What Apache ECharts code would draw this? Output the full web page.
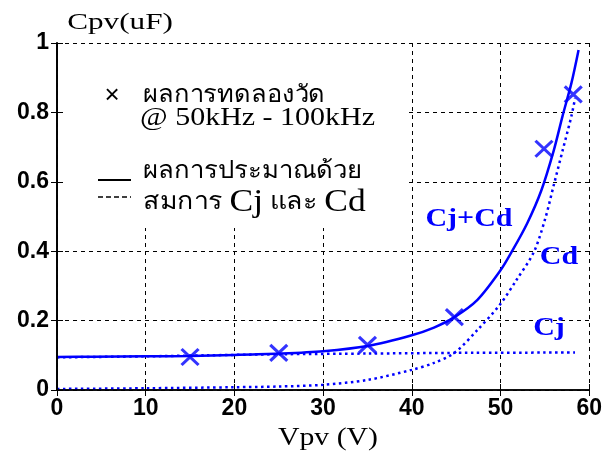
<!DOCTYPE html>
<html>
<head>
<meta charset="utf-8">
<script src="https://cdn.jsdelivr.net/npm/echarts@6/dist/echarts.min.js"></script>
<style>
  html, body { margin: 0; padding: 0; background: #fff; }
  #chart { width: 605px; height: 459px; }
</style>
</head>
<body>
<div id="chart"></div>
<script>
// Fitted total capacitance Cj + Cd (solid curve), uF vs V
const fitVoltage = [0, 4, 10, 15, 20, 25, 30, 35, 40, 42.5, 44.8, 47.4, 50, 51.3, 53, 54.6, 56, 57, 58, 58.8];
const fitCap     = [0.095, 0.096, 0.097, 0.098, 0.101, 0.105, 0.112, 0.127, 0.158, 0.18, 0.21, 0.26, 0.345, 0.4, 0.48, 0.575, 0.69, 0.79, 0.885, 0.98];

// Junction capacitance Cj (dotted)
const cjVoltage = [0, 10, 17, 25, 35, 45, 58.4];
const cjCap     = [0.094, 0.097, 0.1, 0.103, 0.105, 0.107, 0.108];

// Diffusion capacitance Cd (dotted)
const cdVoltage = [0, 10, 20, 25, 30, 35, 40, 42.5, 44.8, 47.4, 49.9, 51.8, 53.75, 55, 56, 57, 58, 58.4];
const cdCap     = [0.003, 0.005, 0.008, 0.01, 0.015, 0.029, 0.058, 0.078, 0.107, 0.173, 0.245, 0.317, 0.397, 0.49, 0.59, 0.69, 0.79, 0.84];

// Measured points @ 50kHz - 100kHz
const measVoltage = [15, 25, 35, 44.8, 54.9, 58.2];
const measCap     = [0.095, 0.107, 0.13, 0.21, 0.695, 0.852];

// Axis tick values
const xTicks = [0, 10, 20, 30, 40, 50, 60];
const yTicks = [0, 0.2, 0.4, 0.6, 0.8, 1];

const zip = (xs, ys) => xs.map((x, i) => [x, ys[i]]);

const BLUE = '#0000ff';
const SERIF = '"Liberation Serif", "DejaVu Serif", serif';
const SANS = '"Liberation Sans", Arial, sans-serif';

const chart = echarts.init(document.getElementById('chart'), null, { renderer: 'canvas' });

const gridBox = { left: 57, right: 13, top: 43, bottom: 69 };

const tickOnlyAxis = (extra) => Object.assign({
  type: 'value', min: 0, interval: 10,
  axisLine: { show: true, lineStyle: { color: '#000', width: 1.5 } },
  axisTick: { show: true, inside: true, length: 6, lineStyle: { color: '#000', width: 1 } },
  axisLabel: { show: false },
  splitLine: { show: false },
  z: 5
}, extra);

// text helper: wide-set lettering, anchored at (x, y)
const label = (x, y, text, font, fill, sx, align) => ({
  type: 'text', z: 3, x, y, scaleX: sx || 1, originX: 0, originY: 0,
  style: { text, font, fill, align: align || 'left', verticalAlign: 'middle' }
});

const tickLabel = { color: '#000', fontFamily: SANS, fontSize: 23, fontWeight: 'bold', margin: 8 };

const option = {
  animation: false,
  backgroundColor: '#fff',
  grid: Object.assign({ show: false }, gridBox),
  xAxis: [
    {
      type: 'value', min: xTicks[0], max: xTicks[xTicks.length - 1], interval: 10,
      position: 'bottom',
      axisLine: { show: true, lineStyle: { color: '#000', width: 1.5 } },
      axisTick: { show: true, inside: true, length: 6, lineStyle: { color: '#000' } },
      axisLabel: Object.assign({}, tickLabel, { margin: 7 }),
      splitLine: { show: true, lineStyle: { color: '#000', type: [4, 4], width: 1 } },
      z: 0
    },
    tickOnlyAxis({ max: 60, position: 'top' })
  ],
  yAxis: [
    {
      type: 'value', min: yTicks[0], max: yTicks[yTicks.length - 1], interval: 0.2,
      position: 'left',
      axisLine: { show: true, lineStyle: { color: '#000', width: 1.5 } },
      axisTick: { show: true, inside: true, length: 6, lineStyle: { color: '#000' } },
      axisLabel: tickLabel,
      splitLine: { show: true, lineStyle: { color: '#000', type: [4, 4], width: 1 } },
      z: 0
    },
    tickOnlyAxis({ max: 1, interval: 0.2, position: 'right' }),
    tickOnlyAxis({ max: 1, interval: 0.2, position: 'left' })
  ],
  graphic: [
    // legend panel hiding the grid in the upper-left corner
    { type: 'rect', z: 2, shape: { x: 58, y: 44, width: 347, height: 184 }, style: { fill: '#fff' } },
    // legend entries
    label(112, 96, '\u00d7', '26px ' + SANS, '#000', 1, 'center'),
    label(143, 96, 'ผลการทดลองวัด', '24px ' + SERIF, '#000', 1.06),
    label(140, 118, '@ 50kHz - 100kHz', '25px ' + SERIF, '#000', 1.2),
    { type: 'line', z: 3, shape: { x1: 98, y1: 180, x2: 131, y2: 180 }, style: { stroke: '#000', lineWidth: 2 } },
    { type: 'line', z: 3, shape: { x1: 98, y1: 197, x2: 131, y2: 197 }, style: { stroke: '#000', lineWidth: 1.5, lineDash: [5, 3] } },
    label(143, 172, 'ผลการประมาณด้วย', '24px ' + SERIF, '#000', 1.07),
    {
      type: 'text', z: 3, x: 143, y: 203, scaleX: 1.11, originX: 0, originY: 0,
      style: {
        rich: { t: { font: '24px ' + SERIF, fill: '#000' }, b: { font: '32px ' + SERIF, fill: '#000' } },
        text: '{t|สมการ }{b|Cj}{t| และ }{b|Cd}', verticalAlign: 'middle'
      }
    },
    // axis names
    label(120, 23, 'Cpv(uF)', '24px ' + SERIF, '#000', 1.3, 'center'),
    label(328, 438, 'Vpv (V)', '25px ' + SERIF, '#000', 1.19, 'center'),
    // curve captions
    label(469, 220, 'Cj+Cd', 'bold 25px ' + SERIF, BLUE, 1.2, 'center'),
    label(559, 258, 'Cd', 'bold 25px ' + SERIF, BLUE, 1.2, 'center'),
    label(549, 329, 'Cj', 'bold 25px ' + SERIF, BLUE, 1.2, 'center')
  ],
  series: [
    {
      name: 'Cj+Cd', type: 'line', smooth: 0.3, showSymbol: false, clip: false,
      data: zip(fitVoltage, fitCap),
      lineStyle: { color: BLUE, width: 2.5 }, z: 4
    },
    {
      name: 'Cj', type: 'line', smooth: 0.3, showSymbol: false,
      data: zip(cjVoltage, cjCap),
      lineStyle: { color: BLUE, width: 2.5, type: [2.5, 3.5] }, z: 4
    },
    {
      name: 'Cd', type: 'line', smooth: 0.3, showSymbol: false,
      data: zip(cdVoltage, cdCap),
      lineStyle: { color: BLUE, width: 2.5, type: [2.5, 3.5] }, z: 4
    },
    {
      name: 'measured', type: 'scatter',
      data: zip(measVoltage, measCap),
      symbol: 'path://M0,0L10,10M10,0L0,10',
      symbolSize: [17, 16],
      itemStyle: { color: 'none', borderColor: BLUE, borderWidth: 3 },
      z: 5
    }
  ]
};

chart.setOption(option);
</script>
</body>
</html>
